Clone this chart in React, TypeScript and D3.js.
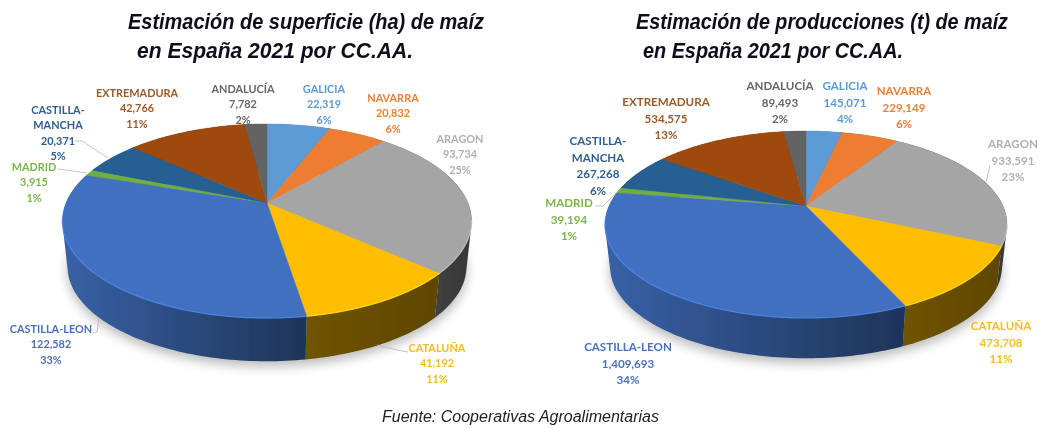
import React from "react";
import * as d3 from "d3";

const labelLines = [["GALICIA"],["NAVARRA"],["ARAGON"],["CATALUÑA"],["CASTILLA-LEON"],["MADRID"],["CASTILLA-","MANCHA"],["EXTREMADURA"],["ANDALUCÍA"]];
const superficie = [22319,20832,93734,41192,122582,3915,20371,42766,7782];
const superficiePct = [6,6,25,11,33,1,5,11,2];
const produccion = [145071,229149,933591,473708,1409693,39194,267268,534575,89493];
const produccionPct = [4,6,23,11,34,1,6,13,2];
const sliceColors = ["#5b9bd5","#ed7d31","#a5a5a5","#fdbe00","#4170bf","#70ad47","#255e91","#9e480e","#636363"];
const textColors = ["#5b9bd5","#e9803a","#b0b0b0","#f5bd1f","#4a72b8","#7ab648","#2f5f8f","#9e5a26","#666666"];
const wallShades: [number,number][] = [[.6,.6],[.6,.6],[.48,.33],[.44,.37],[.87,.46],[.8,.8],[.8,.8],[.7,.7],[.7,.7]];

const titleLeft = ["Estimación de superficie (ha) de maíz","en España 2021 por CC.AA."];
const titleRight = ["Estimación de producciones (t) de maíz","en España 2021 por CC.AA."];
const source = "Fuente: Cooperativas Agroalimentarias";

type Pt = [number, number];
type Geo = {cx:number;cy:number;k:number;R:number;S:number;Rb:number;Sb:number;cyb:number;font:number;lh:number;
  labels:Pt[];leaders:Pt[][];};

const leftGeo: Geo = {cx:267,cy:203,k:0.1856,R:201,S:93.7,Rb:196,Sb:91.4,cyb:249,font:10.9,lh:15.4,
  labels:[[324,88],[393,97],[460,138],[437,347],[51,328],[34,166],[58,109],[137,92],[243,88]],
  leaders:[[[75,141],[82,141],[108,158]],[[58,169],[87,173]],[[93,333],[97,332],[99,318]],[[408,352],[397,350],[377,345]]]};
const rightGeo: Geo = {cx:806,cy:206,k:0.198,R:197,S:89.8,Rb:192,Sb:87.6,cyb:249,font:11.6,lh:16.5,
  labels:[[845,85],[904,90],[1013,143],[1001,325],[628,346],[569,202],[598,140],[666,101],[780,85]],
  leaders:[[[990,165],[986,182]],[[595,206],[603,206],[617,192]]]};
const titleLayout = [[128,29,356],[137,58,276],[636,29,372],[643,58,260]];

function project(g:Geo, a:number, lower:boolean):Pt {
  const u=Math.sin(a), v=Math.cos(a), w=1+g.k*v;
  return lower ? [g.cx+g.Rb*u/w, g.cyb-g.Sb*v/w] : [g.cx+g.R*u/w, g.cy-g.S*v/w];
}
const pathOf = d3.line<Pt>();

function Pie({values,pcts,geo,id}:{values:number[];pcts:number[];geo:Geo;id:string}) {
  const arcs = d3.pie<number>().sort(null).value(d=>d)(values);
  const deg = Math.PI/180;
  const grads:React.ReactNode[]=[];
  const walls:React.ReactNode[]=[];
  const faces:React.ReactNode[]=[];
  const rims:React.ReactNode[]=[];
  arcs.forEach((a,i)=>{
    const ticks=d3.range(a.startAngle,a.endAngle,1.2*deg).concat([a.endAngle]);
    const pts=ticks.map(t=>project(geo,t,false));
    const low=ticks.map(t=>project(geo,t,true));
    const [x0,x1]=d3.extent([...pts,...low],p=>p[0]) as [number,number];
    const base=d3.rgb(sliceColors[i]);
    const shadeCol=(s:number)=>d3.rgb(base.r*s,base.g*s,base.b*s).formatHex();
    const gid=`g${id}${i}`;
    grads.push(<linearGradient key={gid} id={gid} gradientUnits="userSpaceOnUse" x1={x0} x2={x1} y1={0} y2={0}>
      <stop offset="0" stopColor={shadeCol(wallShades[i][0])}/>
      <stop offset="1" stopColor={shadeCol(wallShades[i][1])}/>
    </linearGradient>);
    // the wall is the sweep of the top edge down to the bottom edge: one path of consistently wound quads
    let d="";
    for(let j=0;j<ticks.length-1;j++){
      const q:Pt[]=[pts[j],pts[j+1],low[j+1],low[j]];
      d+=pathOf(d3.polygonArea(q)>=0?q:[...q].reverse())+"Z";
    }
    walls.push(<path key={`w${i}`} d={d} fill={`url(#${gid})`} fillRule="nonzero"/>);
    faces.push(<path key={`f${i}`} d={pathOf([[geo.cx,geo.cy],...pts])+"Z"} fill={sliceColors[i]} stroke={sliceColors[i]} strokeWidth={0.4}/>);
    const front=ticks.filter(t=>t/deg>100&&t/deg<262);
    if(front.length>1){
      rims.push(<path key={`r${i}`} d={pathOf(front.map(t=>project(geo,t,false)))!} fill="none"
        stroke={d3.rgb(sliceColors[i]).brighter(0.5).formatHex()} strokeWidth={1.3} opacity={0.8}/>);
    }
  });
  const botTicks=d3.range(0,Math.PI*2+0.02,0.05);
  return <g>
    <defs>{grads}</defs>
    <path d={pathOf(botTicks.map(t=>{const p=project(geo,t,true);return [p[0],p[1]+5] as Pt;}))+"Z"} fill="#000" opacity={0.28} filter="url(#shadow)"/>
    {walls}{faces}{rims}
    {geo.leaders.map((l,i)=><path key={`l${i}`} d={pathOf(l)!} fill="none" stroke="#b5b5b5" strokeWidth={0.8}/>)}
    <g fontFamily="Lato" fontWeight={700} fontSize={geo.font} textAnchor="middle">
      {arcs.map((a,i)=>{
        const lines=[...labelLines[i],d3.format(",")(values[i]),`${pcts[i]}%`];
        const [x,y]=geo.labels[i];
        return <text key={`t${id}${i}`} fill={textColors[i]} dominantBaseline="central">
          {lines.map((s,j)=><tspan key={j} x={x} y={y+j*geo.lh}>{s}</tspan>)}
        </text>;
      })}
    </g>
  </g>;
}

export default function App(){
  const titles=[...titleLeft,...titleRight];
  return <svg width={1040} height={428} style={{position:"absolute",left:0,top:0,background:"#fff"}}>
    <defs>
      <filter id="shadow" x="-20%" y="-20%" width="140%" height="140%"><feGaussianBlur stdDeviation="6"/></filter>
      <filter id="soft" x="-2%" y="-2%" width="104%" height="104%"><feGaussianBlur stdDeviation="0.55"/></filter>
    </defs>
    <g filter="url(#soft)">
      <Pie id="a" values={superficie} pcts={superficiePct} geo={leftGeo}/>
      <Pie id="b" values={produccion} pcts={produccionPct} geo={rightGeo}/>
      <g fontFamily="Liberation Sans" fontWeight={700} fontStyle="italic" fontSize={20} fill="#10101c">
        {titles.map((t,i)=>{
          const [x,y,w]=titleLayout[i];
          return <text key={i} transform={`translate(${x},${y}) scale(1,1.125)`} textLength={w} lengthAdjust="spacingAndGlyphs">{t}</text>;
        })}
      </g>
      <text x={520.5} y={422} textAnchor="middle" fontFamily="Liberation Sans" fontStyle="italic" fontSize={16} fill="#222">{source}</text>
    </g>
  </svg>;
}
